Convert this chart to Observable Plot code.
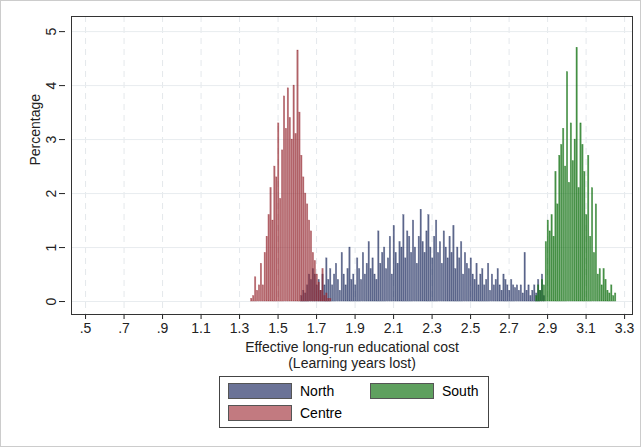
<!DOCTYPE html>
<html><head>
<script src="https://cdn.jsdelivr.net/npm/d3@7"></script>
<script src="https://cdn.jsdelivr.net/npm/@observablehq/plot@0.6"></script>
<style>
body{margin:0;background:#fff;font-family:Arial,"Liberation Sans",sans-serif;}
#wrap{width:639px;height:445px;border:1px solid #ccc;position:relative;}
#legend{position:absolute;left:218px;top:375px;width:268px;height:50px;border:1px solid #444;font-size:14px;}
.it{position:absolute;display:flex;align-items:center;gap:8px;}
.sw{width:62px;height:14px;border:1px solid #555;}
</style></head><body>
<div id="wrap"><div id="chart"></div>
<div id="legend">
<div class="it" style="left:8px;top:6px"><div class="sw" style="background:#6b7397"></div>North</div>
<div class="it" style="left:150px;top:6px"><div class="sw" style="background:#5fa05f"></div>South</div>
<div class="it" style="left:8px;top:28px"><div class="sw" style="background:#c27a80"></div>Centre</div>
</div></div>
<script>
const binWidth = 0.01;
const centreStart = 1.36;
const centreVals = [0.05,0.1,0.45,0.2,0.3,0.7,0.3,0.9,1.2,1.6,2.1,1.5,2.5,2.3,3.3,1.9,2.8,3.8,3.2,3.95,3.4,3.0,4.0,3.1,4.65,3.5,2.7,2.3,2.0,1.8,1.5,1.3,0.9,0.75,0.5,0.35,0.2,0.6,0.1,0.15,0.05,0.05];
const northStart = 1.62;
const northVals = [0.1,0.2,0.15,0.3,0.5,0.4,0.6,0.5,0.3,0.4,0.2,0.5,0.3,0.8,0.4,0.6,0.3,0.5,0.7,0.4,0.2,0.9,0.5,0.3,0.6,1.0,0.4,0.5,0.3,0.8,0.6,0.4,0.9,0.5,0.7,1.1,0.6,0.8,0.5,0.4,1.3,0.7,0.9,1.0,0.6,0.8,1.2,0.5,1.4,0.9,0.7,1.1,1.0,1.6,0.8,1.3,1.2,0.9,1.5,1.0,0.7,1.2,1.7,1.1,0.9,1.3,1.6,1.0,0.8,1.2,1.5,0.9,1.1,0.7,1.3,1.0,0.8,1.2,0.9,1.4,0.6,1.0,0.8,1.1,0.5,0.9,0.7,0.6,0.8,0.5,0.4,0.7,0.3,0.5,0.6,0.3,0.4,0.7,0.2,0.5,0.3,0.4,0.6,0.3,0.2,0.5,0.4,0.3,0.2,0.4,0.3,0.25,0.3,0.2,0.3,0.15,0.9,0.2,0.3,0.1,0.2,0.3,0.15,0.4,0.2,0.5,0.1];
const southStart = 2.84;
const southVals = [0.1,0.3,0.2,0.4,0.3,1.1,1.5,1.3,1.6,1.2,2.4,1.8,2.7,2.9,3.2,2.5,4.25,2.2,3.3,2.6,3.0,4.7,2.1,3.3,2.9,2.4,1.6,2.7,1.2,2.1,0.9,1.8,0.5,0.6,0.3,0.6,0.4,0.2,0.15,0.3,0.1,0.15];
const toRows = (start, vals, g) => vals.map((v,i)=>({x1:start+i*binWidth, x2:start+(i+1)*binWidth-0.003, y:v, g}));
const north = toRows(northStart, northVals, "North");
const centre = toRows(centreStart, centreVals, "Centre");
const south = toRows(southStart, southVals, "South");
const xTicks = [0.5,0.7,0.9,1.1,1.3,1.5,1.7,1.9,2.1,2.3,2.5,2.7,2.9,3.1,3.3];
const yTicks = [0,1,2,3,4,5];
const fmt = d => String(d).replace(/^0\./,".");
const chart = Plot.plot({
  width:639, height:372, marginLeft:70, marginRight:8, marginTop:15, marginBottom:59,
  style:{fontFamily:"Arial, 'Liberation Sans', sans-serif", fontSize:"14px", color:"#222"},
  x:{domain:[0.427,3.341], ticks:xTicks, tickFormat:fmt, label:null, tickSize:5},
  y:{domain:[-0.24,5.28], ticks:yTicks, label:null, tickSize:5},
  marks:[
    Plot.ruleX(xTicks,{stroke:"#e4e8ec", strokeDasharray:"6,5"}),
    Plot.ruleY(yTicks,{stroke:"#e8ecef"}),
    Plot.rectY(north,{x1:"x1",x2:"x2",y1:0,y2:"y",fill:"#2c3a6a",fillOpacity:0.75,stroke:"#2c3a6a",strokeOpacity:0.5,strokeWidth:0.5}),
    Plot.rectY(centre,{x1:"x1",x2:"x2",y1:0,y2:"y",fill:"#962830",fillOpacity:0.7,stroke:"#962830",strokeOpacity:0.5,strokeWidth:0.5}),
    Plot.rectY(south,{x1:"x1",x2:"x2",y1:0,y2:"y",fill:"#0f700f",fillOpacity:0.75,stroke:"#0f700f",strokeOpacity:0.5,strokeWidth:0.5}),
    Plot.frame({stroke:"#333"}),
    Plot.axisY({ticks:yTicks, tickFormat:d=>String(d), tickRotate:-90, tickPadding:4, textAnchor:"middle", dx:-6}),
    Plot.text(["Percentage"],{frameAnchor:"left", dx:-36, rotate:-90, fontSize:14}),
    Plot.text(["Effective long-run educational cost"],{frameAnchor:"bottom", dy:37, fontSize:14}),
    Plot.text(["(Learning years lost)"],{frameAnchor:"bottom", dy:53, fontSize:14})
  ]
});
document.getElementById("chart").append(chart);
</script></body></html>
